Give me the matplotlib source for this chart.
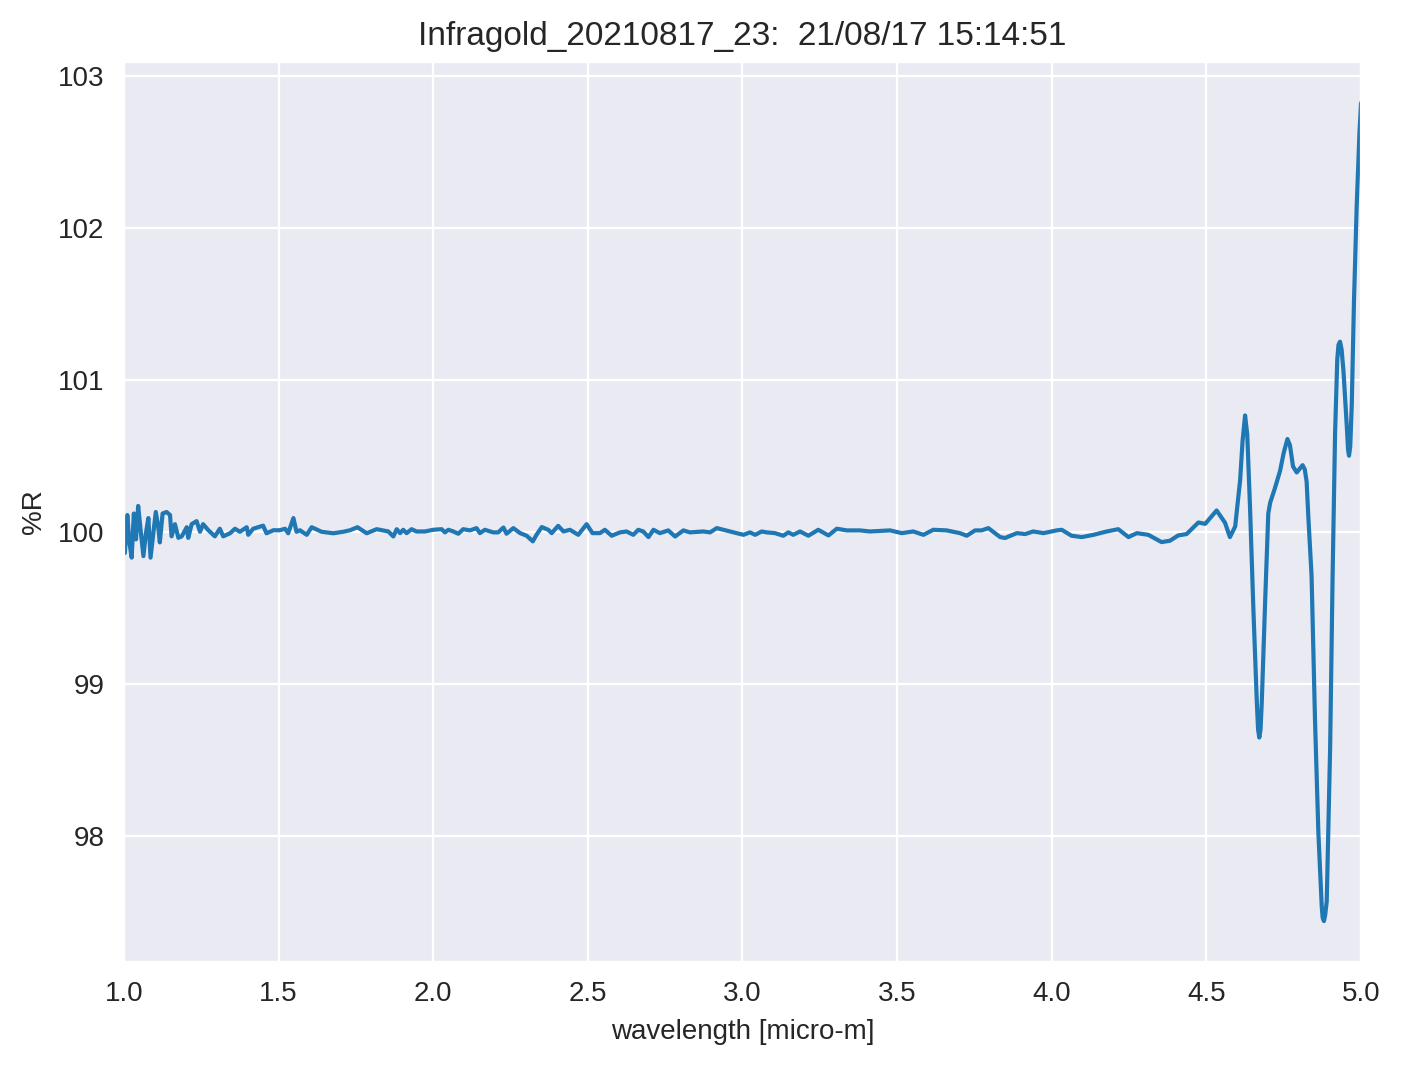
import matplotlib
matplotlib.use("Agg")
import matplotlib.pyplot as plt
import seaborn as sns

# wavelength [micro-m] and %R
wavelength = [
    1.000, 1.003, 1.011, 1.017, 1.025, 1.032, 1.039, 1.046, 1.054, 1.063,
    1.071, 1.079, 1.086, 1.095, 1.103, 1.111, 1.116, 1.125, 1.138, 1.149,
    1.154, 1.165, 1.176, 1.187, 1.203, 1.208, 1.219, 1.235, 1.246, 1.256,
    1.273, 1.294, 1.310, 1.321, 1.343, 1.359, 1.375, 1.397, 1.402, 1.418,
    1.450, 1.461, 1.483, 1.504, 1.521, 1.531, 1.548, 1.558, 1.569, 1.591,
    1.607, 1.628, 1.639, 1.677, 1.709, 1.731, 1.755, 1.785,
    1.817, 1.855, 1.871, 1.882, 1.893, 1.903, 1.914, 1.930, 1.946, 1.973,
    2.000, 2.027, 2.038, 2.049, 2.065, 2.081, 2.097, 2.119, 2.140, 2.151,
    2.167, 2.194, 2.210, 2.227, 2.237, 2.259, 2.281, 2.302, 2.322, 2.334,
    2.351, 2.372, 2.383, 2.404, 2.421, 2.442, 2.469, 2.496, 2.515, 2.539,
    2.555, 2.577, 2.604, 2.625, 2.647, 2.663, 2.679, 2.696, 2.712, 2.733,
    2.760, 2.782, 2.809, 2.830, 2.873, 2.895, 2.917, 2.938, 2.960, 2.981,
    3.003, 3.024, 3.041, 3.062,
    3.078, 3.105, 3.132, 3.148, 3.164, 3.186, 3.213, 3.245, 3.278, 3.305,
    3.337, 3.380, 3.412, 3.477, 3.515, 3.552, 3.585, 3.617, 3.660, 3.703,
    3.725, 3.752, 3.773, 3.795, 3.833, 3.849, 3.887, 3.914, 3.940, 3.973,
    4.016, 4.032, 4.064, 4.097, 4.135, 4.178, 4.215, 4.248, 4.275, 4.312,
    4.355, 4.382, 4.409, 4.436, 4.474, 4.496, 4.533, 4.560, 4.576, 4.593,
    4.609, 4.617, 4.625, 4.632, 4.641, 4.652, 4.663, 4.667, 4.671, 4.675,
    4.679, 4.690, 4.700, 4.706, 4.722, 4.738, 4.750, 4.762, 4.770, 4.780,
    4.792, 4.811, 4.818, 4.824, 4.830, 4.840, 4.851, 4.862, 4.873, 4.876,
    4.880, 4.884, 4.889, 4.900, 4.908, 4.916, 4.923, 4.927, 4.932, 4.937,
    4.943, 4.954, 4.958, 4.961, 4.965, 4.970, 4.977, 4.986, 4.995, 5.000,
]
reflectance = [
    100.10, 99.86, 100.11, 99.94, 99.83, 100.12, 99.95, 100.17, 100.01, 99.84,
    99.99, 100.09, 99.83, 99.99, 100.13, 100.03, 99.93, 100.12, 100.13, 100.11,
    99.97, 100.05, 99.96, 99.97, 100.03, 99.96, 100.05, 100.07, 100.00, 100.05,
    100.01, 99.97, 100.02, 99.97, 99.99, 100.02, 100.00, 100.03, 99.98, 100.02,
    100.04, 99.99, 100.01, 100.01, 100.02, 99.99, 100.09, 100.00, 100.01, 99.98,
    100.03, 100.01, 100.00, 99.99, 100.00, 100.01, 100.03, 99.99,
    100.017, 100.002, 99.969, 100.017, 99.991, 100.013, 99.991, 100.017, 100.002, 100.002,
    100.013, 100.017, 99.996, 100.013, 100.002, 99.987, 100.017, 100.009, 100.024, 99.991,
    100.013, 99.996, 99.996, 100.028, 99.987, 100.024, 99.991, 99.974, 99.937, 99.980,
    100.031, 100.013, 99.991, 100.039, 100.002, 100.013, 99.980, 100.050, 99.991, 99.991,
    100.013, 99.974, 99.996, 100.002, 99.980, 100.013, 100.002, 99.965, 100.013, 99.991,
    100.009, 99.969, 100.009, 99.996, 100.002, 99.996, 100.024, 100.013, 100.002, 99.991,
    99.980, 99.996, 99.980, 100.002,
    99.996, 99.991, 99.974, 99.996, 99.980, 100.002, 99.974, 100.013, 99.976, 100.020,
    100.009, 100.009, 100.002, 100.009, 99.991, 100.002, 99.980, 100.013, 100.009, 99.991,
    99.974, 100.009, 100.009, 100.024, 99.965, 99.959, 99.991, 99.985, 100.002, 99.991,
    100.009, 100.013, 99.974, 99.965, 99.980, 100.002, 100.017, 99.965, 99.991, 99.980,
    99.932, 99.941, 99.976, 99.985, 100.061, 100.052, 100.140, 100.060, 99.965, 100.035,
    100.340, 100.600, 100.765, 100.640, 100.160, 99.480, 98.880, 98.700, 98.647, 98.700,
    98.880, 99.550, 100.120, 100.190, 100.290, 100.400, 100.520, 100.610, 100.570, 100.430,
    100.390, 100.438, 100.410, 100.330, 100.080, 99.710, 98.770, 98.020, 97.530, 97.460,
    97.440, 97.480, 97.570, 98.580, 99.710, 100.650, 101.130, 101.230, 101.250, 101.200,
    101.060, 100.690, 100.540, 100.500, 100.560, 100.840, 101.510, 102.150, 102.630, 102.820,
]

title = "Infragold_20210817_23:  21/08/17 15:14:51"

sns.set_style('darkgrid')
plt.rcParams['font.family'] = ['Liberation Sans', 'DejaVu Sans']

fig = plt.figure(figsize=(1402 / 200, 1069 / 200), dpi=200)
ax = fig.add_axes([0.0884, 0.1001, 0.8824, 0.8419])
ax.plot(wavelength, reflectance, color='#1f77b4', lw=1.5)
ax.set_xlim(1.0, 5.0)
ax.set_xlabel('wavelength [micro-m]')
ax.set_ylabel('%R')
ax.set_title(title)

fig.savefig('out.png', dpi=200)
